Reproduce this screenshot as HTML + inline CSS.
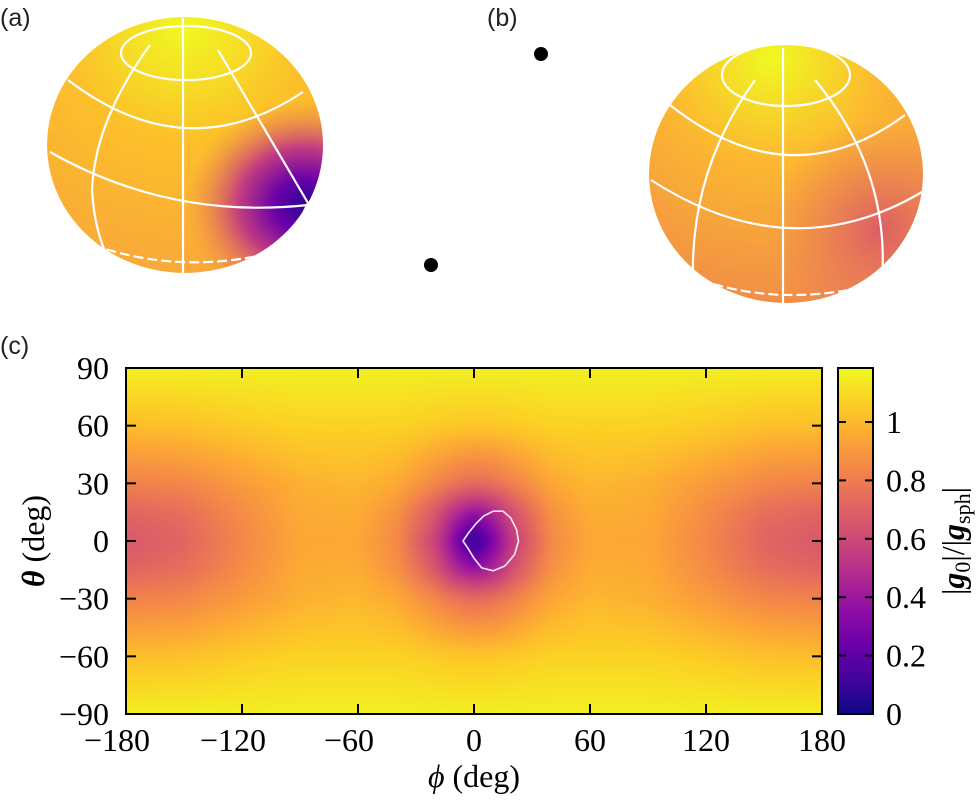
<!DOCTYPE html>
<html><head><meta charset="utf-8"><style>
html,body{margin:0;padding:0;background:#fff;}
#wrap{position:relative;width:979px;height:801px;overflow:hidden;font-family:"Liberation Serif",serif;}
.pl{position:absolute;font-family:"Liberation Sans",sans-serif;font-size:25px;color:#222;}
canvas{position:absolute;}
svg{position:absolute;left:0;top:0;}
#ax text{font-family:"Liberation Serif",serif;}
</style></head><body>
<div id="wrap">
<div class="pl" style="left:0;top:4px">(a)</div>
<div class="pl" style="left:487px;top:4px">(b)</div>
<div class="pl" style="left:0;top:332px">(c)</div>
<svg width="979" height="340">
<defs>
<radialGradient id="ga" cx="0.5" cy="0.05" r="0.95">
<stop offset="0" stop-color="#f0f921"/><stop offset="0.45" stop-color="#fcc02a"/><stop offset="1" stop-color="#f9a83a"/></radialGradient>
<radialGradient id="spot" cx="0.5" cy="0.5" r="0.5">
<stop offset="0" stop-color="#2a0593"/><stop offset="0.25" stop-color="#6a00a8"/><stop offset="0.55" stop-color="#c23c81"/><stop offset="1" stop-color="#f2844b" stop-opacity="0"/></radialGradient>
<radialGradient id="gb" cx="0.45" cy="0.05" r="1">
<stop offset="0" stop-color="#f0f921"/><stop offset="0.4" stop-color="#fcb830"/><stop offset="1" stop-color="#f08a4a"/></radialGradient>
<radialGradient id="spotb" cx="0.5" cy="0.5" r="0.5">
<stop offset="0" stop-color="#dc5e66"/><stop offset="1" stop-color="#e8765a" stop-opacity="0"/></radialGradient>
<radialGradient id="botY" cx="0.5" cy="1" r="0.5"><stop offset="0" stop-color="#f7e424" stop-opacity="0.8"/><stop offset="1" stop-color="#fcc02a" stop-opacity="0"/></radialGradient>
<clipPath id="ca"><ellipse cx="185" cy="145" rx="138" ry="128"/></clipPath>
<clipPath id="cb"><ellipse cx="786" cy="174" rx="137" ry="129"/></clipPath>
</defs>
<g clip-path="url(#ca)">
<ellipse cx="185" cy="145" rx="138" ry="128" fill="url(#ga)"/>
<ellipse cx="150" cy="285" rx="110" ry="40" fill="url(#botY)"/>
<ellipse cx="305" cy="205" rx="120" ry="105" fill="url(#spot)"/>
<g fill="none" stroke="#fff" stroke-width="2.2">
<ellipse cx="186" cy="53" rx="65" ry="27"/>
<path d="M68,80 Q186,170 303,92"/>
<path d="M50,152 Q170,220 308,205"/>
<path d="M80,240 Q185,282 300,245" stroke-dasharray="10 4"/>
<path d="M183,18 L183,274"/>
<path d="M150,45 Q95,120 92,190 Q95,240 115,270"/>
<path d="M218,50 L308,203"/>
<path d="M308,203 L290,240"/>
</g></g>
<g clip-path="url(#cb)">
<ellipse cx="786" cy="174" rx="137" ry="129" fill="url(#gb)"/>
<ellipse cx="880" cy="230" rx="110" ry="110" fill="url(#spotb)"/>
<g fill="none" stroke="#fff" stroke-width="2.2">
<ellipse cx="786" cy="75" rx="64" ry="31"/>
<path d="M670,105 Q790,200 905,115"/>
<path d="M651,180 Q790,270 922,192"/>
<path d="M700,280 Q790,310 890,280" stroke-dasharray="10 4"/>
<path d="M783,48 L783,303"/>
<path d="M755,80 Q690,170 693,280"/>
<path d="M815,80 Q890,170 882,280"/>
</g></g>
<circle cx="541" cy="54" r="7" fill="#000"/>
<circle cx="431" cy="265" r="7" fill="#000"/>
</svg>
<canvas id="hm" width="696" height="346" style="left:126px;top:368px"></canvas>
<canvas id="cbar" width="35" height="346" style="left:838px;top:368px"></canvas>
<svg id="ax" width="979" height="801"></svg>
</div>
<script>
// grid data: phi nodes, theta nodes, values (rows = theta from 90 down to -90)
const phiNodes=[-180,-150,-120,-90,-60,-40,-20,-10,0,10,20,40,60,90,120,150,180];
const thetaNodes=[-90,-60,-30,-15,0,15,30,60,90];
const row90=[1.16,1.16,1.16,1.16,1.16,1.16,1.16,1.16,1.16,1.16,1.16,1.16,1.16,1.16,1.16,1.16,1.16];
const row60=[1.02,1.03,1.06,1.08,1.08,1.08,1.06,1.05,1.05,1.05,1.06,1.08,1.08,1.08,1.06,1.03,1.02];
const row30=[0.82,0.84,0.91,0.98,1.00,0.96,0.84,0.78,0.74,0.76,0.82,0.95,1.00,0.98,0.91,0.84,0.82];
const row15=[0.71,0.75,0.86,0.96,0.97,0.88,0.66,0.48,0.38,0.46,0.63,0.88,0.97,0.96,0.86,0.75,0.71];
const row0 =[0.66,0.71,0.84,0.95,0.95,0.85,0.57,0.32,0.02,0.30,0.54,0.85,0.95,0.95,0.84,0.71,0.66];
const values=[row90,row60,row30,row15,row0,row15,row30,row60,row90];
const contourPhi=[-5.7,-3,1,5,10,15,19,22,23,21,16,10,4,0,-3,-5.7];
const contourTheta=[0,4,9,13,15.5,15.5,12,6,0,-7,-13,-15.5,-14,-9,-4,0];
const xTicks=[-180,-120,-60,0,60,120,180];
const yTicks=[90,60,30,0,-30,-60,-90];
const cTicks=[0,0.2,0.4,0.6,0.8,1];
const vmax=1.185;
const plasma=["#0d0887","#41049d","#6a00a8","#8f0da4","#b12a90","#cc4778","#e16462","#f2844b","#fca636","#fcce25","#f0f921"];
const L=126,R=822,T=368,B=714;
const xs=p=>L+(p+180)/360*(R-L);
const ys=t=>T+(90-t)/180*(B-T);
const pc=plasma.map(h=>[parseInt(h.slice(1,3),16),parseInt(h.slice(3,5),16),parseInt(h.slice(5,7),16)]);
function cmap(v){let s=Math.max(0,Math.min(1,v/vmax))*10;let i=Math.min(9,Math.floor(s)),f=s-i;
 return pc[i].map((c,k)=>Math.round(c+(pc[i+1][k]-c)*f));}
function idx(nodes,v){let i=0;while(i<nodes.length-2&&v>nodes[i+1])i++;return [i,(v-nodes[i])/(nodes[i+1]-nodes[i])];}
function val(p,t){const [i,fx]=idx(phiNodes,p);const [j,fy]=idx(thetaNodes,-t);
 const a=values[j][i],b=values[j][i+1],c=values[j+1][i],d=values[j+1][i+1];
 return (a*(1-fx)+b*fx)*(1-fy)+(c*(1-fx)+d*fx)*fy;}
(function(){const cv=document.getElementById('hm'),ctx=cv.getContext('2d');const W=cv.width,H=cv.height;
 const F=new Float32Array(W*H);
 for(let y=0;y<H;y++){const t=90-(y+0.5)/H*180;for(let x=0;x<W;x++){F[y*W+x]=val(-180+(x+0.5)/W*360,t);}}
 const G=new Float32Array(W*H),r=8;
 for(let y=0;y<H;y++){for(let x=0;x<W;x++){let s=0,n=0;for(let k=-r;k<=r;k++){const xx=Math.min(W-1,Math.max(0,x+k));s+=F[y*W+xx];n++;}G[y*W+x]=s/n;}}
 const im=ctx.createImageData(W,H);
 for(let y=0;y<H;y++){for(let x=0;x<W;x++){let s=0,n=0;for(let k=-r;k<=r;k++){const yy=Math.min(H-1,Math.max(0,y+k));s+=G[yy*W+x];n++;}
  const c=cmap(s/n);const o=(y*W+x)*4;im.data[o]=c[0];im.data[o+1]=c[1];im.data[o+2]=c[2];im.data[o+3]=255;}}
 ctx.putImageData(im,0,0);
 const cb=document.getElementById('cbar'),cc=cb.getContext('2d');
 for(let y=0;y<cb.height;y++){const c=cmap((cb.height-y)/cb.height*vmax);cc.fillStyle=`rgb(${c})`;cc.fillRect(0,y,cb.width,1);}
})();
const NS="http://www.w3.org/2000/svg";const ax=document.getElementById('ax');
function mk(tag,attrs,parent){const e=document.createElementNS(NS,tag);for(const k in attrs)e.setAttribute(k,attrs[k]);(parent||ax).appendChild(e);return e;}
let d=contourPhi.map((p,i)=>(i?'L':'M')+xs(p).toFixed(1)+','+ys(contourTheta[i]).toFixed(1)).join(' ')+'Z';
const cpath=mk('path',{d:d,fill:'none',stroke:'#f4e8f4','stroke-width':1.6,'stroke-linejoin':'round'});


const fr=mk('rect',{x:L,y:T,width:R-L,height:B-T,fill:'none',stroke:'#000','stroke-width':2});


const cf=mk('rect',{x:838,y:T,width:35,height:B-T,fill:'none',stroke:'#000','stroke-width':2});


function txt(s,x,y,anchor,name){const e=mk('text',{x:x,y:y,'text-anchor':anchor,'font-size':32,style:"font-family:'Liberation Serif',serif",fill:'#000'});e.textContent=s;
 
 return e;}
const fmt=v=>(v<0?'\u2212'+(-v):String(v));
xTicks.forEach(v=>{const x=xs(v);
 if(v>-180&&v<180){mk('line',{x1:x,y1:T,x2:x,y2:T+10,stroke:'#000','stroke-width':2});mk('line',{x1:x,y1:B,x2:x,y2:B-10,stroke:'#000','stroke-width':2});}
 txt(fmt(v),x+(v<0?-9:0),B+37,'middle','x-tick-label');});
yTicks.forEach(v=>{const y=ys(v);
 if(v>-90&&v<90){mk('line',{x1:L,y1:y,x2:L+10,y2:y,stroke:'#000','stroke-width':2});mk('line',{x1:R,y1:y,x2:R-10,y2:y,stroke:'#000','stroke-width':2});}
 txt(fmt(v),109,y+11,'end','y-tick-label');});
cTicks.forEach(v=>{const y=B-v/vmax*(B-T);
 if(v>0){mk('line',{x1:838,y1:y,x2:846,y2:y,stroke:'#000','stroke-width':2});mk('line',{x1:873,y1:y,x2:865,y2:y,stroke:'#000','stroke-width':2});}
 txt(String(v),886,y+11,'start','colorbar-tick-label');});
const xt=mk('text',{x:474,y:787,'text-anchor':'middle','font-size':32,style:"font-family:'Liberation Serif',serif"});
xt.innerHTML='<tspan font-style="italic">ϕ</tspan> (deg)';


const yt=mk('text',{x:0,y:0,'text-anchor':'middle','font-size':32,style:"font-family:'Liberation Serif',serif",transform:'translate(44,541) rotate(-90)'});
yt.innerHTML='<tspan font-style="italic" font-weight="bold">θ</tspan> (deg)';


const ct=mk('text',{x:0,y:0,'text-anchor':'middle','font-size':32,style:"font-family:'Liberation Serif',serif",transform:'translate(964,541) rotate(-90)'});
ct.innerHTML='|<tspan font-style="italic" font-weight="bold">g</tspan><tspan font-size="22" dy="6">0</tspan><tspan dy="-6">|/|</tspan><tspan font-style="italic" font-weight="bold">g</tspan><tspan font-size="22" dy="6">sph</tspan><tspan dy="-6">|</tspan>';


</script>
</body></html>
